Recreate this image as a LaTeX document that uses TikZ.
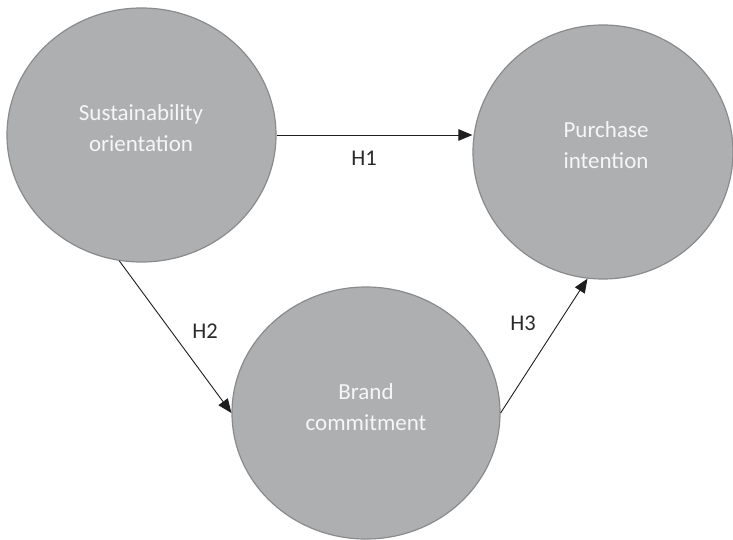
\documentclass[tikz,border=0pt]{standalone}
\usepackage{fontspec}
\setmainfont{Carlito}
\usetikzlibrary{shapes.geometric,arrows.meta}
\definecolor{circfill}{HTML}{AEAFB1}
\definecolor{circline}{HTML}{8A8B8D}
\definecolor{circtext}{HTML}{F6F6F6}
\definecolor{arrowc}{HTML}{1E1E1E}
\definecolor{labc}{HTML}{2A2A2A}
\begin{document}
\begin{tikzpicture}[x=1pt,y=-1pt,
  construct/.style={ellipse,draw=circline,fill=circfill,line width=1.2pt,inner sep=0pt},
  ctext/.style={text=circtext,align=center,font=\fontsize{23}{31}\selectfont},
  hlab/.style={text=labc,font=\fontsize{22.5}{26}\selectfont},
  path/.style={draw=arrowc,line width=0.9pt,-{Triangle[length=14pt,width=11.5pt]}}]
\useasboundingbox (0,0) rectangle (733,540);
\node[construct,minimum width=269pt,minimum height=254pt] (so) at (141.5,135) {};
\node[construct,minimum width=260pt,minimum height=254pt] (pi) at (603,152) {};
\node[construct,minimum width=268pt,minimum height=252pt] (bc) at (366,413) {};
\node[ctext] (sot) at (141,128) {Sustainability\\orientation};
\node[ctext] (pit) at (606,145) {Purchase\\intention};
\node[ctext] (bct) at (366,407) {Brand\\commitment};
\draw[path] (so.east) -- (so.east -| pi.west) coordinate (h1end);
\draw[path] (so.260) -- (bc.west);
\draw[path] (bc.east) -- (pi.263);
\node[hlab] (h1) at (364,158) {H1};
\node[hlab] (h2) at (205,331) {H2};
\node[hlab] (h3) at (523,323) {H3};
\end{tikzpicture}
\end{document}
